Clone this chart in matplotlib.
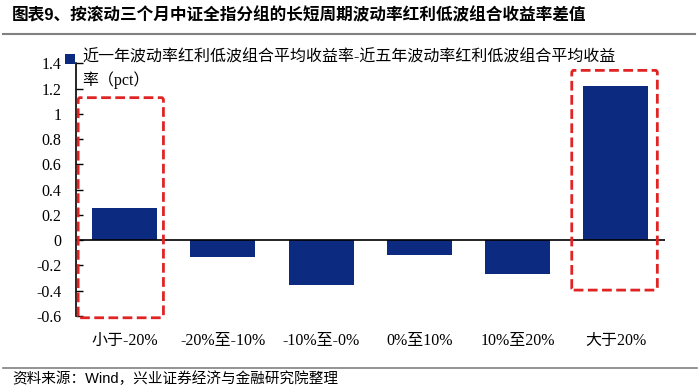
import matplotlib
matplotlib.use("Agg")
import matplotlib.pyplot as plt
from matplotlib.patches import FancyBboxPatch, Rectangle
from matplotlib.lines import Line2D

categories = ["小于-20%", "-20%至-10%", "-10%至-0%", "0%至10%", "10%至20%", "大于20%"]
values = [0.255, -0.13, -0.355, -0.115, -0.265, 1.217]
yticks = [-0.6, -0.4, -0.2, 0, 0.2, 0.4, 0.6, 0.8, 1.0, 1.2, 1.4]
ytick_labels = ["-0.6", "-0.4", "-0.2", "0", "0.2", "0.4", "0.6", "0.8", "1", "1.2", "1.4"]
legend_label = "近一年波动率红利低波组合平均收益率-近五年波动率红利低波组合平均收益\n率（pct）"
title = "图表9、按滚动三个月中证全指分组的长短周期波动率红利低波组合收益率差值"
source = "资料来源：Wind，兴业证券经济与金融研究院整理"

serif = ["Liberation Serif", "Noto Sans CJK SC"]
sans = ["Liberation Sans", "Noto Sans CJK SC"]
bar_color = "#0b2a80"
red = "#e02424"

fig = plt.figure(figsize=(7, 3.92), dpi=100)
W, H = 700, 392
ax = fig.add_axes([75.5 / W, 1 - 316 / H, (665 - 75.5) / W, (316 - 63.3) / H])

x = list(range(len(categories)))
bars = ax.bar(x, values, width=0.66, color=bar_color, zorder=2)
ax.set_xlim(-0.5, len(categories) - 0.5)
ax.set_ylim(-0.6, 1.4)
ax.axhline(0, color="black", lw=1.2, zorder=3)

ax.set_yticks(yticks)
ax.set_yticklabels(ytick_labels, family=serif, fontsize=11.5)
ax.set_xticks(x)
ax.set_xticklabels(categories, family=serif, fontsize=11.5)
ax.tick_params(axis="y", direction="in", length=5, width=1, pad=10, colors="black")
ax.tick_params(axis="x", length=0, pad=12)
for s in ["top", "right", "bottom"]:
    ax.spines[s].set_visible(False)
ax.spines["left"].set_linewidth(1.2)

# red dashed highlight boxes (data coords)
boxes = [(-0.473, -0.614, 0.395, 1.128), (4.551, -0.395, 5.422, 1.344)]
for x0, y0, x1, y1 in boxes:
    r = FancyBboxPatch((x0, y0), x1 - x0, y1 - y0, boxstyle="round,pad=0,rounding_size=0.02",
                       fill=False, edgecolor=red, lw=2, ls=(0, (3.5, 1.6)), zorder=4,
                       clip_on=False, mutation_aspect=1.0)
    ax.add_patch(r)

# legend
fig.patches.append(Rectangle((65 / W, 1 - 64 / H), 10 / W, 10 / H, transform=fig.transFigure,
                             facecolor=bar_color, edgecolor="none"))
fig.text(82 / W, 1 - 50 / H, legend_label, family=serif, fontsize=11.5, va="top", ha="left",
         linespacing=1.4)

# title, rules, source
fig.text(12 / W, 1 - 15 / H, title, family=sans, fontsize=12, fontweight="bold", va="center", ha="left")
fig.add_artist(Line2D([3 / W, 695 / W], [1 - 33.5 / H, 1 - 33.5 / H], color="#808080", lw=1.5))
fig.add_artist(Line2D([3 / W, 697 / W], [1 - 367.5 / H, 1 - 367.5 / H], color="#808080", lw=1.2))
fig.text(12 / W, 1 - 379 / H, source, family=sans, fontsize=10.5, va="center", ha="left")

fig.savefig("out.png", dpi=100)
